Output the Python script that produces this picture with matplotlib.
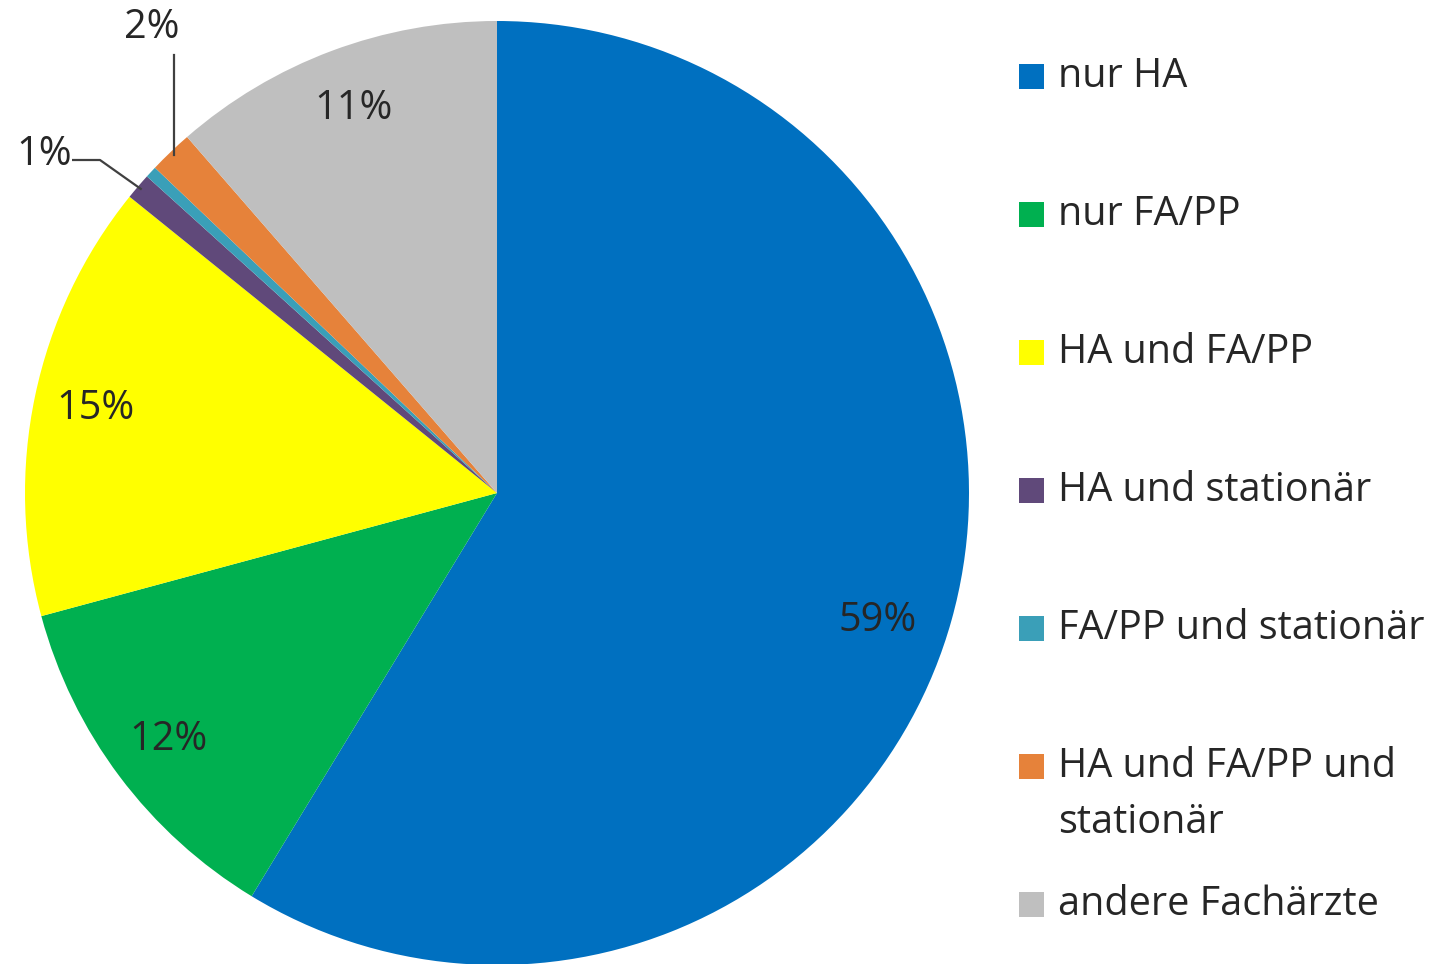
import matplotlib.pyplot as plt
from matplotlib.patches import Rectangle
import numpy as np

plt.rcParams['font.family'] = ['Open Sans', 'DejaVu Sans']

categories = ['nur HA', 'nur FA/PP', 'HA und FA/PP', 'HA und station\u00e4r',
              'FA/PP und station\u00e4r', 'HA und FA/PP und\nstation\u00e4r',
              'andere Fach\u00e4rzte']
shares = [58.7, 12.1, 15.0, 0.9, 0.4, 1.5, 11.4]
pct_labels = ['59%', '12%', '15%', '1%', '', '2%', '11%']
colors = ['#0070C0', '#00B050', '#FFFF00', '#60497A', '#3A9FB8', '#E6823A', '#BFBFBF']

W, H = 1451, 964
cx, cy, R = 497, 493, 472   # pie centre / radius in pixels
txt = '#262626'
fs = 28.5

fig = plt.figure(figsize=(W / 100, H / 100), dpi=100)
ax = fig.add_axes([(cx - R) / W, (H - cy - R) / H, 2 * R / W, 2 * R / H])

wedges, _ = ax.pie(shares, colors=colors, startangle=90, counterclock=False,
                   radius=1, wedgeprops=dict(linewidth=0))
ax.set_xlim(-1, 1)
ax.set_ylim(-1, 1)
ax.axis('off')


def px(x, y):
    # pixel position -> data coords
    return (x - cx) / R, (cy - y) / R


for w, lab in zip(wedges, pct_labels):
    if not lab:
        continue
    mid = np.deg2rad((w.theta1 + w.theta2) / 2)
    ex, ey = np.cos(mid), np.sin(mid)
    if lab == '1%':
        tx, ty = px(72, 155)
        ax.text(tx, ty, lab, ha='right', va='center', fontsize=fs, color=txt)
        x1, y1 = px(72, 160)
        x2, _ = px(100, 160)
        ax.plot([x1, x2, ex * 0.99], [y1, y1, ey * 0.99], color='#404040', lw=1.6,
                solid_capstyle='butt')
    elif lab == '2%':
        tx, ty = px(152, 28)
        ax.text(tx, ty, lab, ha='center', va='center', fontsize=fs, color=txt)
        _, y1 = px(0, 55)
        ax.plot([ex * 0.99, ex * 0.99], [y1, ey * 0.99], color='#404040', lw=1.6)
    elif lab == '59%':
        ax.text(0.85 * np.cos(mid - 0.05), 0.85 * np.sin(mid - 0.05), lab,
                ha='center', va='center', fontsize=fs, color=txt)
    else:
        ax.text(0.87 * ex, 0.87 * ey, lab, ha='center', va='center',
                fontsize=fs, color=txt)

# legend drawn by hand to match the spacing
for i, (name, col) in enumerate(zip(categories, colors)):
    y = 77 + 138 * i
    fig.patches.append(Rectangle(((1019) / W, 1 - (y + 12) / H), 25 / W, 25 / H,
                                 transform=fig.transFigure, facecolor=col,
                                 edgecolor='none'))
    for j, line in enumerate(name.split('\n')):
        fig.text(1058 / W, 1 - (y + 56 * j) / H, line, ha='left', va='center',
                 fontsize=fs, color=txt)

fig.savefig('out.png', dpi=100, facecolor='white')
